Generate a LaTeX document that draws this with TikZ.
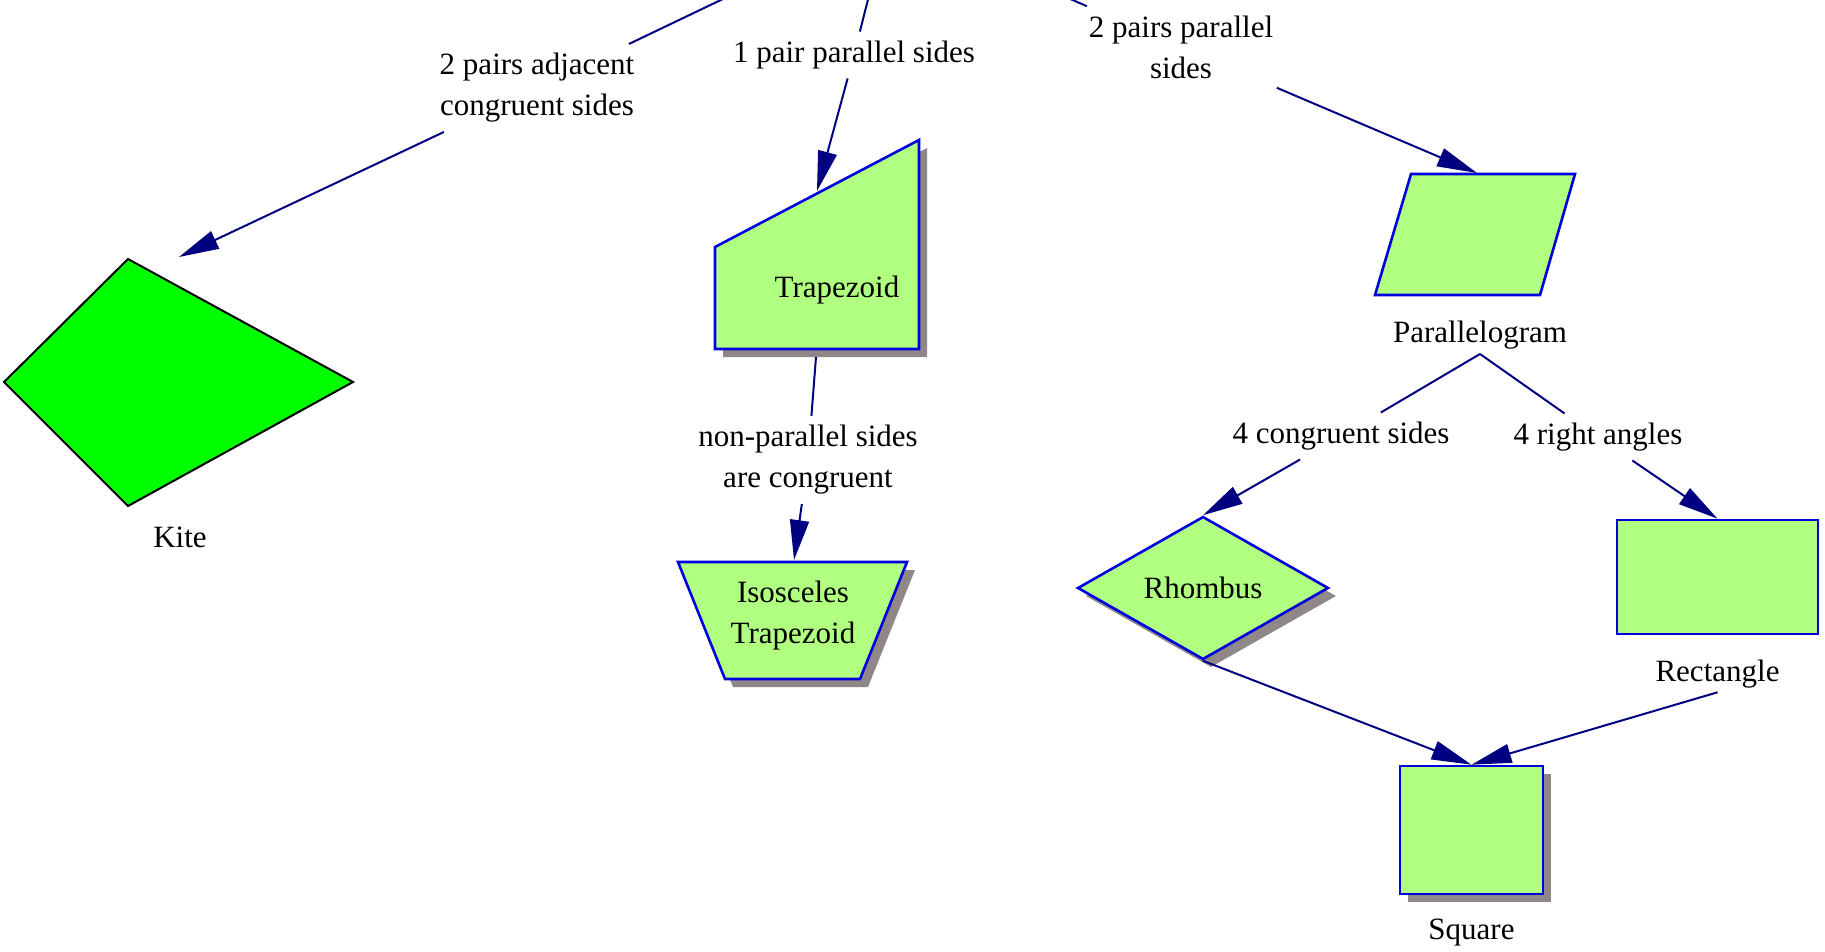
\documentclass[tikz,border=0pt]{standalone}
\usepackage{fontspec}
\setmainfont{Liberation Serif}
\usetikzlibrary{arrows.meta,positioning,shadows,shapes.geometric}
\definecolor{figgreen}{RGB}{176,255,128}
\definecolor{kitegreen}{RGB}{0,255,0}
\definecolor{figblue}{RGB}{0,0,225}
\definecolor{linknavy}{RGB}{0,0,128}
\definecolor{shadowgrey}{RGB}{144,136,136}
\tikzset{
    %Define standard arrow tip
    >={Triangle[length=20pt,width=9.5pt]},
    %Define style for the figures
    quadbox/.style={
           draw=figblue,
           fill=figgreen,
           line width=1.3pt},
    kitebox/.style={
           draw=black,
           fill=kitegreen,
           line width=1pt},
    castshadow/.style={
           drop shadow={shadow xshift=4pt,shadow yshift=-4pt,
                        fill=shadowgrey,opacity=1}},
    %Define style for the texts
    lbl/.style={
           align=center,
           inner sep=4.5pt},
    capt/.style={
           align=center,
           inner sep=2pt},
    % Define arrow style
    link/.style={
           ->,
           draw=linknavy,
           line width=1pt},
    seg/.style={
           draw=linknavy,
           line width=1pt}
}
\begin{document}
\begin{tikzpicture}[x=0.5pt,y=-0.5pt,font=\fontsize{15.5}{20.5}\selectfont]
 \useasboundingbox (0,0) rectangle (1825,952);
 \clip (0,0) rectangle (1825,952);
 \coordinate (quad) at (888,-80);
 % kite
 \filldraw[kitebox] (4,382) -- (128,259) -- (353,382) -- (128,506) -- cycle;
 \coordinate (kite-n) at (179,257);
 \coordinate (kite-s) at (180,506);
 \node[capt,below=8.5pt of kite-s](kite){Kite};
 % trapezoids
 \filldraw[quadbox,castshadow] (715,247) -- (919,140) -- (919,349) -- (715,349) -- cycle;
 \node(trap) at (837,290){Trapezoid};
 \coordinate (trap-n) at (817,191);
 \coordinate (trap-s) at (816,357);
 \filldraw[quadbox,castshadow] (678,562) -- (907,562) -- (860,679) -- (725,679) -- cycle;
 \node[align=center](isotrap) at (793,616){Isosceles\\Trapezoid};
 \coordinate (isotrap-n) at (794,560);
 % parallelogram family
 \filldraw[quadbox] (1411,174) -- (1575,174) -- (1540,295) -- (1375,295) -- cycle;
 \coordinate (para-n) at (1477,173);
 \coordinate (para-s) at (1480,295);
 \node[capt,below=11pt of para-s](para){Parallelogram};
 \node[quadbox,castshadow,diamond,minimum width=125.5pt,minimum height=71.5pt,inner sep=0pt]
   (rhombus) at (1203,588){Rhombus};
 \node[quadbox,minimum width=100.5pt,minimum height=57pt](rect) at (1717.5,577){};
 \node[capt,below=10pt of rect](rectcap){Rectangle};
 \node[quadbox,castshadow,minimum width=71.5pt,minimum height=64pt](square) at (1471.5,830){};
 \node[capt,below=9.5pt of square](squarecap){Square};
 % edge labels
 \node[lbl](adjacent) at (537,88){2 pairs adjacent\\congruent sides}
 edge[seg](quad)
 edge[link](kite-n);
 \node[lbl](onepair) at (854,55){1 pair parallel sides}
 edge[seg](quad)
 edge[link](trap-n);
 \node[lbl](nonpar) at (808,460){non-parallel sides\\are congruent}
 edge[seg](trap-s)
 edge[link](isotrap-n);
 \node[lbl](twopair) at (1181,47){2 pairs parallel\\sides}
 edge[seg](quad)
 edge[link](para-n);
 \node[lbl](congr) at (1341,436){4 congruent sides}
 edge[seg](para.south)
 edge[link](rhombus.north);
 \node[lbl](rightang) at (1598,437){4 right angles}
 edge[seg](para.south)
 edge[link](rect.north);
 \draw[link](rhombus.south) -- (square.north);
 \draw[link](rectcap.south) -- (square.north);
\end{tikzpicture}
\end{document}
